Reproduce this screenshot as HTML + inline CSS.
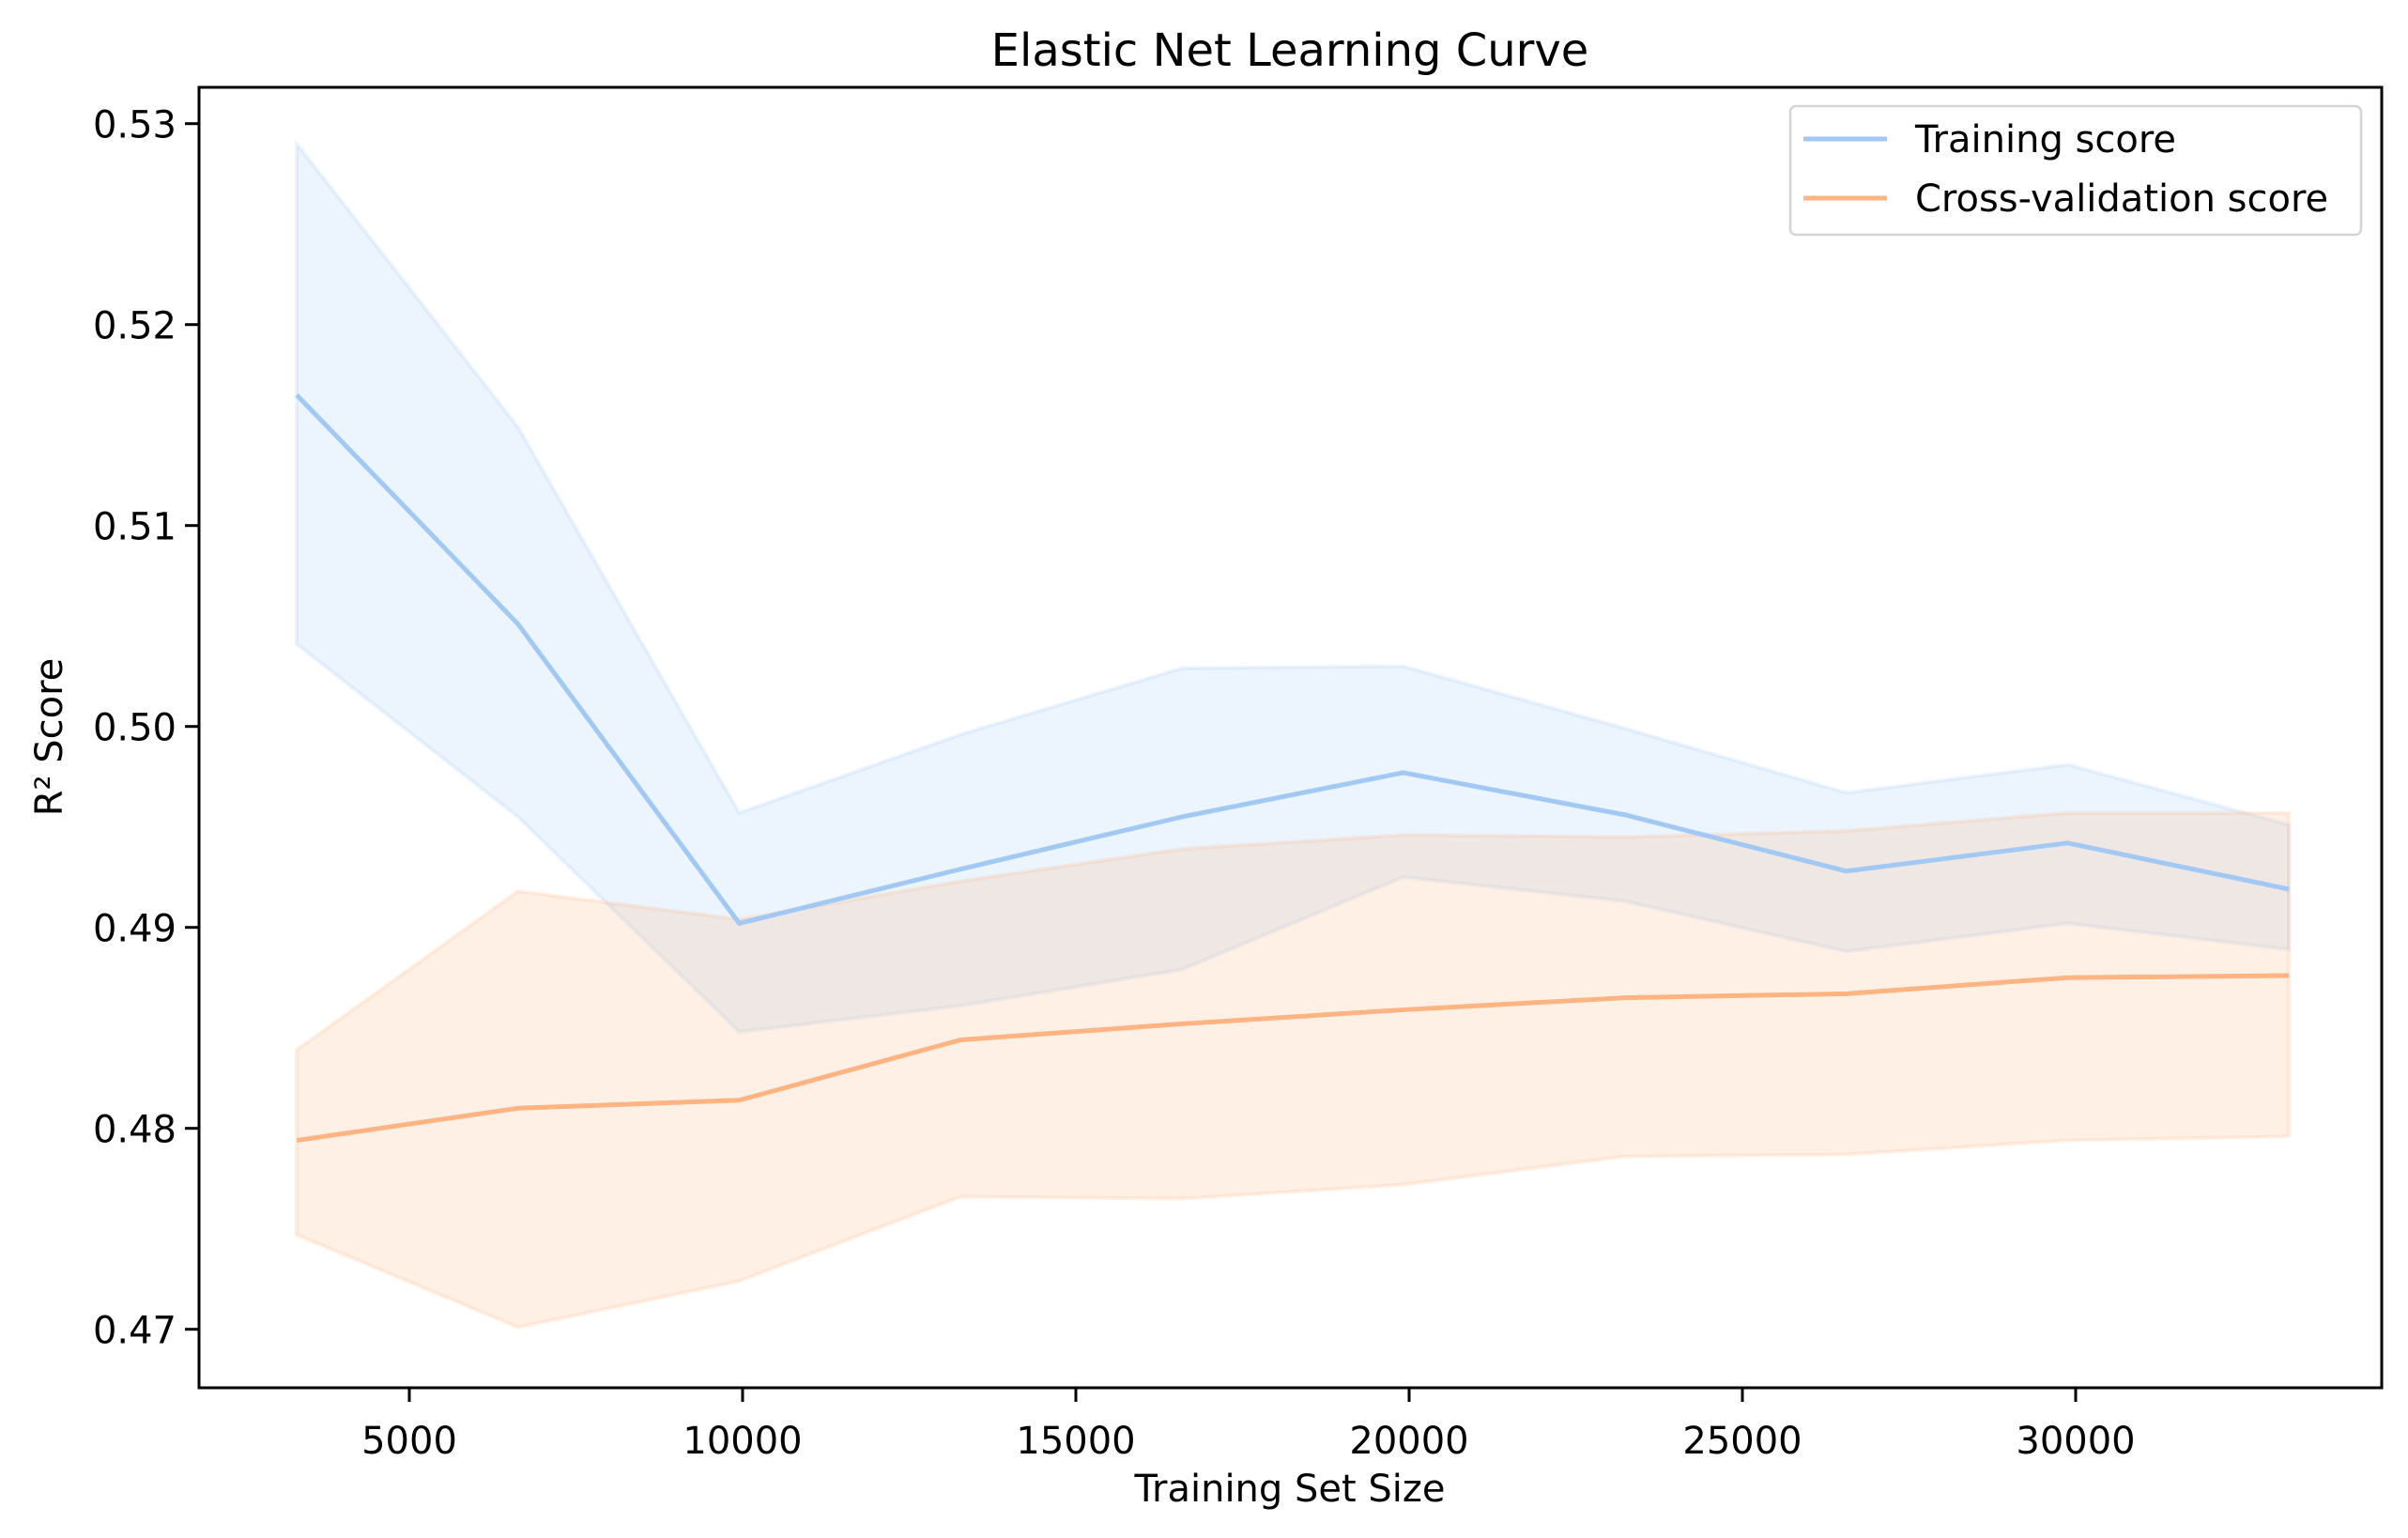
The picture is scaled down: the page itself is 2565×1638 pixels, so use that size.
<!DOCTYPE html>
<html><head><meta charset="utf-8"><style>
html,body{margin:0;padding:0;background:#fff;}
svg{display:block;font-family:"DejaVu Sans","Liberation Sans",sans-serif;}
</style></head><body>
<svg id="chart" width="2565" height="1638" viewBox="0 0 2565 1638" xmlns="http://www.w3.org/2000/svg">
<rect width="2565" height="1638" fill="#fff"/>
<text x="1374" y="70" font-size="48" text-anchor="middle">Elastic Net Learning Curve</text>
<g id="plot"></g>
<g id="axes"></g>
<text x="1374" y="1599" font-size="40" text-anchor="middle">Training Set Size</text>
<text transform="translate(66,785) rotate(-90)" font-size="40" text-anchor="middle">R² Score</text>
<g>
<rect x="1907" y="113" width="608" height="137" rx="6" fill="#fff" stroke="#d5d5d5" stroke-width="2.5"/>
<line x1="1921" y1="148" x2="2010" y2="148" stroke="#a1c9f4" stroke-width="5"/>
<text x="2040" y="162" font-size="40">Training score</text>
<line x1="1921" y1="211" x2="2010" y2="211" stroke="#ffb482" stroke-width="5"/>
<text x="2040" y="225" font-size="40">Cross-validation score</text>
</g>
</svg>
<script>
const trainSizes = [3310, 6630, 9950, 13270, 16590, 19910, 23240, 26560, 29880, 33200];
const trainMean = [0.5165, 0.5051, 0.4902, 0.4929, 0.4955, 0.4977, 0.4956, 0.4928, 0.4942, 0.4919];
const trainUpper = [0.5290, 0.5149, 0.4957, 0.4996, 0.5029, 0.5030, 0.4999, 0.4967, 0.4981, 0.4951];
const trainLower = [0.5041, 0.4955, 0.4848, 0.4861, 0.4879, 0.4925, 0.4913, 0.4888, 0.4902, 0.4889];
const cvMean = [0.4794, 0.4810, 0.4814, 0.4844, 0.4852, 0.4859, 0.4865, 0.4867, 0.4875, 0.4876];
const cvUpper = [0.4839, 0.4918, 0.4904, 0.4923, 0.4939, 0.4946, 0.4945, 0.4948, 0.4957, 0.4957];
const cvLower = [0.4747, 0.4701, 0.4724, 0.4766, 0.4765, 0.4772, 0.4786, 0.4787, 0.4794, 0.4796];
const xTicks = [5000, 10000, 15000, 20000, 25000, 30000];
const yTicks = [0.47, 0.48, 0.49, 0.50, 0.51, 0.52, 0.53];

const L = 212, R = 2537, T = 93, B = 1478;
function xs(v){ return 436 + (v - 5000) * 0.071; }
function ys(v){ return 1415.7 - (v - 0.47) / 0.01 * 214; }
const NS = "http://www.w3.org/2000/svg";
const plot = document.getElementById('plot');
const axes = document.getElementById('axes');
function mk(tag, attrs, parent){ const e = document.createElementNS(NS, tag); for (const k in attrs) e.setAttribute(k, attrs[k]); parent.appendChild(e); return e; }

function band(up, lo, color, name){
  let pts = up.map((v,i)=>xs(trainSizes[i])+','+ys(v));
  for (let i = lo.length-1; i >= 0; i--) pts.push(xs(trainSizes[i])+','+ys(lo[i]));
  const p = mk('polygon', {points: pts.join(' '), fill: color, 'fill-opacity': 0.2, stroke: color, 'stroke-opacity': 0.2, 'stroke-width': 4}, plot);
  
  
}
function line(vals, color, name){
  const p = mk('polyline', {points: vals.map((v,i)=>xs(trainSizes[i])+','+ys(v)).join(' '), fill: 'none', stroke: color, 'stroke-width': 5, 'stroke-linejoin': 'round'}, plot);
  
  
}
band(trainUpper, trainLower, '#a1c9f4', 'training-score-band');
band(cvUpper, cvLower, '#ffb482', 'cv-score-band');
line(trainMean, '#a1c9f4', 'training-score-line');
line(cvMean, '#ffb482', 'cv-score-line');

const frame = mk('rect', {x: L, y: T, width: R-L, height: B-T, fill: 'none', stroke: '#000', 'stroke-width': 3}, axes);


xTicks.forEach(v => {
  const x = xs(v);
  const t = mk('line', {x1: x, y1: B, x2: x, y2: B+15, stroke: '#000', 'stroke-width': 3}, axes);
  
  
  const l = mk('text', {x: x, y: B+70, 'font-size': 40, 'text-anchor': 'middle'}, axes);
  l.textContent = v;
  
  
});
yTicks.forEach(v => {
  const y = ys(v);
  const t = mk('line', {x1: L-15, y1: y, x2: L, y2: y, stroke: '#000', 'stroke-width': 3}, axes);
  
  
  const l = mk('text', {x: L-24, y: y+15, 'font-size': 40, 'text-anchor': 'end'}, axes);
  l.textContent = v.toFixed(2);
  
  
});
</script>
</body></html>
